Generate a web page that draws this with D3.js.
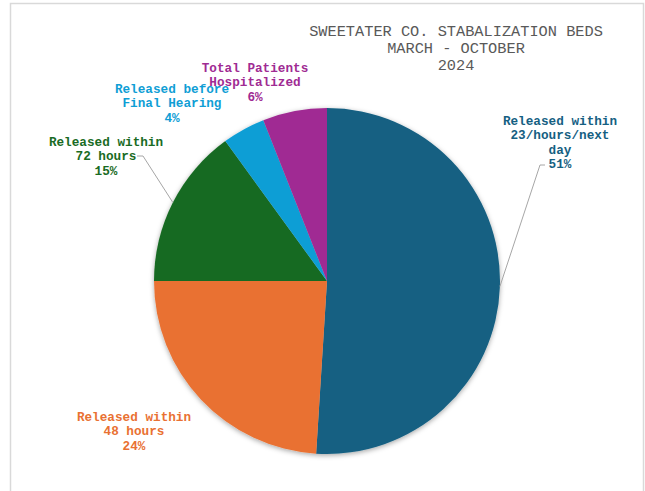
<!DOCTYPE html>
<html>
<head>
<meta charset="utf-8">
<script src="https://cdn.jsdelivr.net/npm/d3@7"></script>
<style>
    body { margin: 0; background: #fff; }
    svg { display: block; }
</style>
</head>
<body>
<div id="chart"></div>
<script>
    // data
    const categories = [
        ["Released within", "23/hours/next", "day"],
        ["Released within", "48 hours"],
        ["Released within", "72 hours"],
        ["Released before", "Final Hearing"],
        ["Total Patients", "Hospitalized"]
    ];
    const values = [51, 24, 15, 4, 6];
    const colors = ["#156082", "#E97132", "#196B24", "#0F9ED5", "#A02B93"];
    const titleLines = ["SWEETATER CO. STABALIZATION BEDS", "MARCH - OCTOBER", "2024"];

    // label layout (centre x, top line centre y), leader line flags
    const labelPos = [[560, 120], [134, 416], [106, 141], [172, 88], [255, 67]];
    const leaderFrom = [[545, 165, "left"], null, [137, 156, "right"], null, null];

    const width = 645, height = 491;
    const cx = 327, cy = 281, radius = 173;

    let svg = d3.select("#chart").append("svg")
        .attr("width", width)
        .attr("height", height);

    // shadow under the pie
    let defs = svg.append("defs");
    defs.append("filter")
        .attr("id", "shadow")
        .attr("x", "-20%").attr("y", "-20%")
        .attr("width", "140%").attr("height", "140%")
        .append("feDropShadow")
        .attr("dx", 0).attr("dy", 1.5)
        .attr("stdDeviation", 2.5)
        .attr("flood-color", "#000")
        .attr("flood-opacity", 0.35);

    // chart area frame
    svg.append("rect")
        .attr("x", 10.5).attr("y", 3.5)
        .attr("width", 633).attr("height", 500)
        .attr("fill", "#fff")
        .attr("stroke", "#d9d9d9")
        .attr("stroke-width", 1.5);

    // title
    svg.append("g").selectAll("text")
        .data(titleLines)
        .enter()
        .append("text")
        .attr("x", 456)
        .attr("y", (d, i) => 36 + i * 17)
        .attr("text-anchor", "middle")
        .attr("font-family", "'Liberation Mono', 'Courier New', monospace")
        .attr("font-size", "15.3px")
        .attr("fill", "#595959")
        .text(d => d);

    let pie = d3.pie()
        .sort(null)
        .value(d => d);

    let arc = d3.arc()
        .innerRadius(0)
        .outerRadius(radius);

    let arcs = pie(values);

    let g = svg.append("g")
        .attr("transform", `translate(${cx},${cy})`);

    g.append("g")
        .attr("filter", "url(#shadow)")
        .selectAll("path")
        .data(arcs)
        .enter()
        .append("path")
        .attr("d", arc)
        .attr("fill", (d, i) => colors[i]);

    // leader lines to the middle of the slice edge
    arcs.forEach((d, i) => {
        let lf = leaderFrom[i];
        if (!lf) return;
        let mid = (d.startAngle + d.endAngle) / 2;
        let px = cx + radius * Math.sin(mid);
        let py = cy - radius * Math.cos(mid);
        let kx = lf[2] === "left" ? lf[0] - 5 : lf[0] + 6;
        svg.append("polyline")
            .attr("points", `${lf[0]},${lf[1]} ${kx},${lf[1]} ${px},${py}`)
            .attr("fill", "none")
            .attr("stroke", "#a6a6a6")
            .attr("stroke-width", 1);
    });

    // slice labels
    arcs.forEach((d, i) => {
        let lines = categories[i].concat([d.data + "%"]);
        svg.append("g").selectAll("text")
            .data(lines)
            .enter()
            .append("text")
            .attr("x", labelPos[i][0])
            .attr("y", (t, k) => labelPos[i][1] + 4.5 + k * 14.5)
            .attr("text-anchor", "middle")
            .attr("font-family", "'Liberation Mono', 'Courier New', monospace")
            .attr("font-weight", "bold")
            .attr("font-size", "12.7px")
            .attr("fill", colors[i])
            .text(t => t);
    });
</script>
</body>
</html>
